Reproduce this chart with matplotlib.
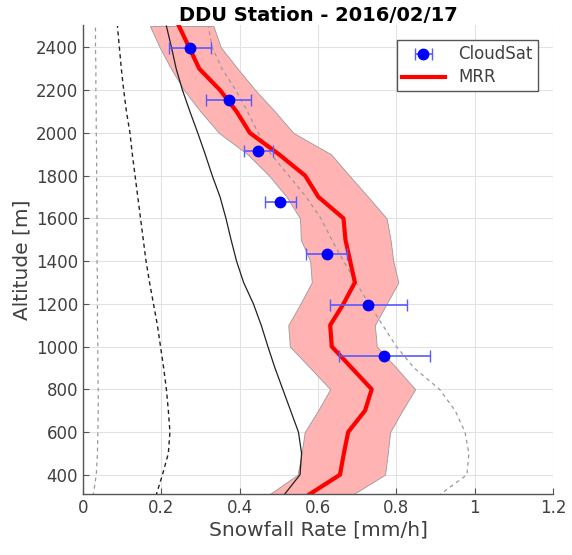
import numpy as np
import matplotlib
matplotlib.use("Agg")
import matplotlib.pyplot as plt

# altitude grid of the profiles [m]
alt = [300, 400, 500, 600, 700, 800, 900, 1000, 1100, 1200, 1300, 1400,
       1500, 1600, 1700, 1800, 1900, 2000, 2100, 2200, 2300, 2400, 2500]

# MRR mean snowfall rate and its spread
mrr = [0.571, 0.656, 0.666, 0.677, 0.720, 0.737, 0.686, 0.635, 0.631, 0.665, 0.694, 0.682,
       0.670, 0.665, 0.601, 0.567, 0.500, 0.426, 0.392, 0.350, 0.297, 0.271, 0.245]
mrr_lo = [0.469, 0.548, 0.558, 0.566, 0.600, 0.631, 0.580, 0.528, 0.524, 0.555, 0.584, 0.580,
          0.556, 0.554, 0.520, 0.475, 0.420, 0.347, 0.300, 0.258, 0.225, 0.196, 0.171]
mrr_hi = [0.682, 0.771, 0.778, 0.784, 0.815, 0.848, 0.800, 0.750, 0.745, 0.775, 0.805, 0.792,
          0.785, 0.775, 0.728, 0.680, 0.633, 0.537, 0.490, 0.440, 0.395, 0.352, 0.333]

# other reference profiles
solid_k = [0.511, 0.554, 0.558, 0.550, 0.530, 0.510, 0.490, 0.472, 0.455, 0.435, 0.410, 0.392,
           0.378, 0.365, 0.350, 0.330, 0.312, 0.293, 0.273, 0.254, 0.238, 0.226, 0.213]
dash_k = [0.186, 0.203, 0.218, 0.222, 0.218, 0.213, 0.206, 0.198, 0.190, 0.180, 0.170, 0.161,
          0.154, 0.147, 0.140, 0.133, 0.126, 0.120, 0.111, 0.104, 0.098, 0.093, 0.088]
dash_g_right = [0.906, 0.980, 0.985, 0.975, 0.950, 0.910, 0.845, 0.800, 0.765, 0.730, 0.697, 0.665,
                0.635, 0.607, 0.570, 0.525, 0.480, 0.447, 0.420, 0.390, 0.355, 0.330, 0.320]
dash_g_left = [0.026, 0.034, 0.037, 0.038, 0.039, 0.039, 0.038, 0.038, 0.037, 0.037, 0.037, 0.036,
               0.036, 0.036, 0.035, 0.035, 0.035, 0.034, 0.034, 0.033, 0.033, 0.032, 0.032]

# CloudSat estimates
cs_alt = [2395, 2155, 1915, 1675, 1435, 1195, 955]
cs_rate = [0.273, 0.372, 0.448, 0.504, 0.622, 0.728, 0.769]
cs_err = [0.054, 0.057, 0.037, 0.040, 0.053, 0.098, 0.116]

txt = '#404040'
plt.rcParams['font.family'] = ['DejaVu Sans']

fig = plt.figure(figsize=(5.72, 5.55), dpi=100)
ax = fig.add_axes([0.145, 0.110, 0.822, 0.845])

ax.fill_betweenx(alt, mrr_lo, mrr_hi, facecolor=(1, 0.70, 0.70), edgecolor='#999999', lw=0.6, zorder=2)
ax.plot(dash_g_left, alt, color='#999999', ls=(0, (3, 3)), lw=0.9, zorder=3)
ax.plot(dash_g_right, alt, color='#999999', ls=(0, (3, 3)), lw=0.9, zorder=3)
ax.plot(dash_k, alt, color='#222222', ls=(0, (3, 2.5)), lw=1.0, zorder=3)
ax.plot(solid_k, alt, color='#222222', lw=0.9, zorder=3)
ax.plot(mrr, alt, color='red', lw=3.0, zorder=4, label='MRR')
ax.errorbar(cs_rate, cs_alt, xerr=cs_err, fmt='o', color='blue', ecolor=(0.35, 0.35, 1.0),
            elinewidth=1.2, capsize=4, markersize=7.5, zorder=5, label='CloudSat')

ax.set_xlim(0, 1.2)
ax.set_ylim(310, 2505)
ax.set_xticks([0, 0.2, 0.4, 0.6, 0.8, 1.0, 1.2])
ax.set_xticklabels(['0', '0.2', '0.4', '0.6', '0.8', '1', '1.2'])
ax.set_yticks(range(400, 2401, 200))
ax.grid(True, color='#e2e2e2', lw=0.8, zorder=0)
ax.set_axisbelow(True)
for s in ['top', 'right']:
    ax.spines[s].set_visible(False)
for s in ['left', 'bottom']:
    ax.spines[s].set_color('#555555')
    ax.spines[s].set_linewidth(1.0)
ax.tick_params(direction='in', length=4, colors='#555555', labelcolor=txt, labelsize=12)

ax.set_xlabel('Snowfall Rate [mm/h]', fontsize=14.5, color=txt, labelpad=3)
ax.set_ylabel('Altitude [m]', fontsize=14.5, color=txt, labelpad=3)
ax.set_title('DDU Station - 2016/02/17', fontsize=14, fontweight='bold', pad=3)

h, l = ax.get_legend_handles_labels()
leg = ax.legend(h[::-1], l[::-1], loc='upper right', bbox_to_anchor=(0.985, 0.985), fontsize=12,
                fancybox=False, edgecolor='#555555', framealpha=1, handlelength=2.6,
                borderpad=0.3, labelspacing=0.3)
for t in leg.get_texts():
    t.set_color(txt)

fig.savefig('out.png', dpi=100)
